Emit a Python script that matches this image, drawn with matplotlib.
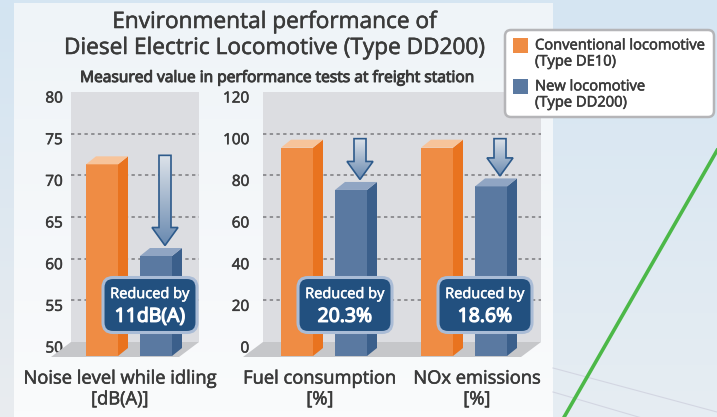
import matplotlib
matplotlib.use('Agg')
import matplotlib.pyplot as plt
import matplotlib.transforms as mtrans
import matplotlib.patheffects as pe
from matplotlib.patches import Rectangle, Polygon, FancyBboxPatch
from matplotlib.colors import LinearSegmentedColormap
import numpy as np

plt.rcParams['font.family'] = ['Open Sans', 'DejaVu Sans']

# data
categories = ['Noise level while idling\n[dB(A)]', 'Fuel consumption\n[%]', 'NOx emissions\n[%]']
conventional = [73, 100, 100]
new_loco = [62, 79.7, 81.4]
reductions = ['11dB(A)', '20.3%', '18.6%']
series = ['Conventional locomotive\n(Type DE10)', 'New locomotive\n(Type DD200)']
noise_ticks = [50, 55, 60, 65, 70, 75, 80]
pct_ticks = [0, 20, 40, 60, 80, 100, 120]

W, H = 717, 417
ORANGE = ('#ef8c44', '#e9731f', '#f7c49b')   # front, side, top
BLUE = ('#5a79a1', '#3b5f8b', '#90a5c3')
TXT = '#3a3a3a'
UNIT = 54          # px between the two bars of a pair
GROUP_GAP = 140    # px between pairs
BAR_W = 32 / UNIT
label_shift = [-29, -24, -7]   # px, category label nudges from pair centre

# the original face is a touch heavier than Open Sans regular
heavy = [pe.withStroke(linewidth=0.4, foreground=TXT)]
heavier = [pe.withStroke(linewidth=0.7, foreground=TXT)]
heavy_w = [pe.withStroke(linewidth=0.4, foreground='white')]
heavier_w = [pe.withStroke(linewidth=0.9, foreground='white')]

fig = plt.figure(figsize=(W / 100, H / 100), dpi=100)


def px_axes(x0, y0, x1, y1, **kw):
    return fig.add_axes([x0 / W, 1 - y1 / H, (x1 - x0) / W, (y1 - y0) / H], **kw)


def vgrad(ax, x0, x1, y0, y1, c0, c1, **kw):
    cm = LinearSegmentedColormap.from_list('g', [c0, c1])
    return ax.imshow(np.linspace(0, 1, 64)[:, None], cmap=cm,
                     extent=(x0, x1, y1, y0), aspect='auto', **kw)


# ---- background
bg = px_axes(0, 0, W, H, zorder=-10)
vgrad(bg, 0, W, 0, H, '#d5e5f2', '#e6edf3')
vgrad(bg, 0, 14, 0, H, '#d3e4f2', '#e9ecef')
vgrad(bg, 14, 553, 3, H, '#eff4f8', '#fafbfc')
for y0, y1 in [(368, 412), (392, 440)]:
    bg.plot([553, W], [y0, y1], color='#d3d6e2', lw=0.8)
bg.plot([W + 2, 563], [147, H + 2], color='#4cb848', lw=2.6, solid_capstyle='butt')
bg.set_xlim(0, W)
bg.set_ylim(H, 0)
bg.axis('off')

# ---- titles
fig.text(274 / W, 1 - 22 / H, 'Environmental performance of', ha='center', va='center',
         fontsize=16.3, color=TXT, path_effects=heavy)
fig.text(274 / W, 1 - 48 / H, 'Diesel Electric Locomotive (Type DD200)', ha='center',
         va='center', fontsize=16.3, color=TXT, path_effects=heavy)
fig.text(277 / W, 1 - 78 / H, 'Measured value in performance tests at freight station',
         ha='center', va='center', fontsize=11.2, color=TXT, path_effects=heavier)


def draw_bar(ax, xc, v, base, cols, kx, ky):
    x0 = xc - BAR_W / 2 - 20 * kx
    x1 = x0 + BAR_W
    yb = base - 14 * ky
    yt = v - 14 * ky
    dx, dy = 10 * kx, 8 * ky
    ax.add_patch(Rectangle((x0, yb), BAR_W, yt - yb, fc=cols[0], ec='none',
                           zorder=3, clip_on=False))
    ax.add_patch(Polygon([(x1, yb), (x1 + dx, yb + dy), (x1 + dx, yt + dy), (x1, yt)],
                         fc=cols[1], ec='none', zorder=3, clip_on=False))
    ax.add_patch(Polygon([(x0, yt), (x0 + dx, yt + dy), (x1 + dx, yt + dy), (x1, yt)],
                         fc=cols[2], ec='none', zorder=3, clip_on=False))


def draw_arrow(ax, xa, top, tip, kx, ky):
    sw, hw, hl = 6 * kx, 13 * kx, 18 * ky
    pts = [(xa - sw, top), (xa + sw, top), (xa + sw, tip + hl), (xa + hw, tip + hl),
           (xa, tip), (xa - hw, tip + hl), (xa - sw, tip + hl)]
    arrow = Polygon(pts, closed=True, fc='none', ec='#2d5a8b', lw=1.2, zorder=4.5,
                    clip_on=False)
    ax.add_patch(arrow)
    im = vgrad(ax, xa - hw, xa + hw, tip, top, '#dde3ea', '#6a8ab0', zorder=4)
    im.set_extent((xa - hw, xa + hw, tip, top))
    im.set_clip_path(arrow)


panels = [
    dict(box=(71, 92, 199, 342), gx=149, cats=[0], ylim=(50, 80), ticks=noise_ticks, pad=6),
    dict(box=(263, 92, 541, 342), gx=344, cats=[1, 2], ylim=(0, 120), ticks=pct_ticks, pad=10),
]

for p in panels:
    x0, y0, x1, y1 = p['box']
    ax = px_axes(x0, y0, x1, y1)
    xlim = ((x0 - p['gx']) / UNIT, (x1 - p['gx']) / UNIT)
    lo, hi = p['ylim']
    kx = 1 / UNIT
    ky = (hi - lo) / (y1 - y0)
    ax.set_facecolor('#dcdde1')
    for s in ax.spines.values():
        s.set_visible(False)
    ax.set_xticks([])
    ax.set_yticks(p['ticks'])
    ax.tick_params(axis='y', length=0, pad=p['pad'], labelsize=11, labelcolor=TXT)
    down = mtrans.ScaledTranslation(0, -0.05, fig.dpi_scale_trans)
    for lab in ax.get_yticklabels():
        lab.set_transform(lab.get_transform() + down)
        lab.set_path_effects(heavy)
    ax.hlines(p['ticks'][1:-1], xlim[0], xlim[1], colors='#7b7b7e', lw=1.1,
              linestyles=(0, (2.2, 2.2)), zorder=1)
    # floor
    ax.add_patch(Polygon([(xlim[0], lo), (xlim[1], lo), (xlim[1] - 20 * kx, lo - 15 * ky),
                          (xlim[0] - 20 * kx, lo - 15 * ky)],
                         fc='#c6c7ca', ec='none', zorder=2, clip_on=False))
    blend = mtrans.blended_transform_factory(ax.transData, ax.transAxes)
    for j, c in enumerate(p['cats']):
        g = j * GROUP_GAP / UNIT
        draw_bar(ax, g - 0.5, conventional[c], lo, ORANGE, kx, ky)
        draw_bar(ax, g + 0.5, new_loco[c], lo, BLUE, kx, ky)
        draw_arrow(ax, g + 0.5 - 11 * kx, conventional[c] - 5 * ky,
                   new_loco[c] - 3.5 * ky, kx, ky)
        # callout
        bx = g + 0.5 - 26 * kx
        trans = fig.dpi_scale_trans + mtrans.ScaledTranslation(bx, 0.148, blend)
        ax.add_patch(FancyBboxPatch((-0.47, -0.275), 0.94, 0.55,
                                    boxstyle='round,pad=0,rounding_size=0.1',
                                    transform=trans, fc='#22507f', ec='#aabcd6', lw=2.2,
                                    zorder=5, clip_on=False))
        ax.annotate('Reduced by', xy=(bx, 0.148), xycoords=blend, xytext=(0, 7.5),
                    textcoords='offset points', ha='center', va='center', color='white',
                    fontsize=10.5, zorder=6, path_effects=heavy_w)
        ax.annotate(reductions[c], xy=(bx, 0.148), xycoords=blend, xytext=(0, -8.5),
                    textcoords='offset points', ha='center', va='center', color='white',
                    fontsize=14, zorder=6, path_effects=heavier_w)
        ax.annotate(categories[c], xy=(g, 0), xycoords=blend,
                    xytext=(label_shift[c] * 0.72, -47 * 0.72), textcoords='offset points',
                    ha='center', va='center', fontsize=13.2, linespacing=1.2, color=TXT,
                    annotation_clip=False, path_effects=heavy)
    ax.set_xlim(*xlim)
    ax.set_ylim(lo, hi)

# ---- legend
lax = px_axes(0, 0, W, H, zorder=10)
lax.patch.set_alpha(0)
lax.add_patch(FancyBboxPatch((505, 30), 209, 87, boxstyle='round,pad=0,rounding_size=6',
                             fc='white', ec='#b5b5b8', lw=1.8))
for i, (cols, ty) in enumerate([(ORANGE, 38), (BLUE, 79)]):
    lax.add_patch(Rectangle((513, ty), 15, 15, fc=cols[0], ec='none'))
    lax.text(535, ty + 16, series[i], ha='left', va='center', fontsize=10.6,
             linespacing=1.1, color=TXT, path_effects=heavy)
lax.set_xlim(0, W)
lax.set_ylim(H, 0)
lax.axis('off')

fig.savefig('out.png', dpi=100)
